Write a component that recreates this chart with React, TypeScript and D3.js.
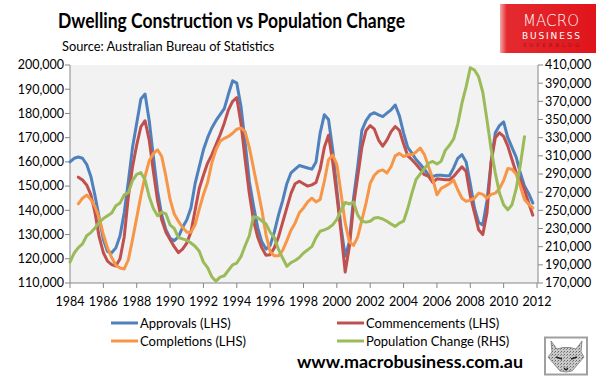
import React from 'react';
import * as d3 from 'd3';

// Quarterly series, values in thousands
const approvalsStart = 1984;
const approvals = [
  160, 161.5, 162, 161.5,
  159, 154, 146, 137,
  128, 123, 122.5, 124.5,
  129.5, 139, 152, 166,
  176, 186, 188, 177,
  162, 148, 138, 132,
  128.5, 127.5, 129, 133,
  136, 141, 151, 158,
  165, 170, 174, 177,
  179.5, 182, 188, 193.5,
  192.5, 183, 168, 152,
  142, 133, 127, 124,
  125.5, 131, 138, 144,
  151, 155.5, 157, 158.5,
  158, 157.5, 157, 160,
  172, 179.5, 177.5, 165,
  148.5, 133, 121, 127,
  145, 158, 173, 177,
  179.5, 180.3, 179.4, 178.7,
  180.1, 181.5, 183.5, 179,
  172, 166, 163.6, 161,
  159, 157, 154.5, 154,
  154.5, 154.5, 154.3, 154.3,
  157.5, 161.5, 163, 160,
  151, 141, 135, 134,
  144, 160, 172, 175,
  176.5, 170, 166, 162,
  155.5, 150, 147, 143,
];

const commencementsStart = 1984.5;
const commencements = [
  153.7, 152.5,
  150.5, 146.5, 139, 129,
  122.5, 119, 117.6, 117,
  120, 129, 145.7, 158,
  167, 174.5, 177, 169,
  156, 144, 136, 131,
  128, 125, 122.5, 124,
  126.5, 131, 140, 149,
  154.5, 159.5, 162.9, 167,
  171.2, 176, 181.5, 185,
  186.5, 176, 161, 147,
  136, 129, 124.5, 121.5,
  121.7, 124.5, 129, 135,
  141, 147, 151, 152,
  151, 150, 150.5, 151.5,
  157, 166, 171, 160,
  146, 131, 114.5, 125,
  142, 154, 166, 173,
  175, 173.5, 169, 166.5,
  169, 172.5, 174.6, 173,
  167.5, 162.5, 160.9, 159,
  157, 154.7, 154, 151.5,
  153, 152.8, 152.6, 152.6,
  154, 156, 158, 156,
  146, 139, 132, 130,
  138.9, 160, 170, 172,
  170.5, 166.5, 161, 155.5,
  152.6, 148.5, 143, 138,
];

const completionsStart = 1984.5;
const completions = [
  142.7, 145,
  146.3, 144.5, 141.5, 137,
  130, 124.5, 120.5, 117.3,
  116.2, 115.8, 119.6, 128,
  137, 146, 154, 160.5,
  163.5, 165, 162.2, 154,
  144.5, 138.5, 135.5, 133,
  131, 131, 134, 140.5,
  146.5, 151.5, 159.5, 165,
  168.5, 169.7, 170.5, 171.8,
  173.5, 174, 172.5, 166,
  157.5, 149, 140.2, 130,
  123, 121.2, 121.2, 123.5,
  127.5, 131.8, 134.8, 139,
  141, 143.5, 145, 143.5,
  144.5, 152, 160.9, 162.8,
  159, 147, 134.8, 127,
  125.5, 129, 136, 143,
  151.2, 154.5, 156.2, 156.7,
  155.4, 158, 162.5, 163.5,
  162.2, 163, 162.9, 164.1,
  165.7, 163, 158, 153,
  146.4, 149, 150, 151,
  152.5, 148.5, 145, 143.7,
  144.2, 145, 147.1, 146.6,
  145, 146.6, 147.1, 149,
  152.3, 157.3, 157, 155,
  150, 144.5, 142.5, 141,
];

const populationStart = 1984;
const population = [
  193, 203, 209, 213,
  222, 225.5, 230.5, 237,
  241, 244, 247, 255,
  258, 267, 269.5, 283,
  289.5, 291.5, 283.6, 265,
  252, 244, 248, 246,
  234, 230, 220, 218.5,
  217, 214, 210.4, 205,
  193, 187, 177, 172,
  176.5, 178, 184, 190,
  192, 199, 211, 222,
  243, 242, 238.5, 235,
  226, 220, 207, 197.5,
  188.4, 192.5, 194.8, 198,
  203, 206.5, 210, 220,
  227, 228.5, 230.5, 234,
  240, 250, 258.7, 257,
  259, 245, 238, 237,
  238, 241.5, 242, 240.5,
  238, 235, 232.3, 236,
  238, 252, 269, 284,
  290, 296, 301.9, 303.8,
  301, 304, 316, 321.6,
  328.5, 345, 368, 386,
  407, 404.5, 397, 380,
  349.6, 317.5, 291, 269,
  256.2, 250.5, 256.2, 273.5,
  300, 331,
];

const leftTicks = [110000, 120000, 130000, 140000, 150000, 160000, 170000, 180000, 190000, 200000];
const rightTicks = [170000, 190000, 210000, 230000, 250000, 270000, 290000, 310000, 330000, 350000, 370000, 390000, 410000];
const yearTicks = [1984, 1986, 1988, 1990, 1992, 1994, 1996, 1998, 2000, 2002, 2004, 2006, 2008, 2010, 2012];

const seriesNames = ['Approvals (LHS)', 'Commencements (LHS)', 'Completions (LHS)', 'Population Change (RHS)'];
const seriesColors = ['#4F81BD', '#C0504D', '#F79646', '#9BBB59'];

const FONT = 'Lato, "Open Sans", sans-serif';

function toPoints(start: number, vals: number[]): [number, number][] {
  return vals.map((v, i) => [start + i * 0.25, v * 1000]);
}

export default function App() {
  const W = 606, H = 378;
  const left = 70, right = 537, top = 65, bottom = 283;
  const x = d3.scaleLinear().domain([1984, 2012]).range([left, right]);
  const yL = d3.scaleLinear().domain([110000, 200000]).range([bottom, top]);
  const yR = d3.scaleLinear().domain([170000, 410000]).range([bottom, top]);
  const lineL = d3.line<[number, number]>().x(d => x(d[0])).y(d => yL(d[1]));
  const lineR = d3.line<[number, number]>().x(d => x(d[0])).y(d => yR(d[1]));
  const fmt = d3.format(',');
  const axisColor = '#868686';

  const paths = [
    lineL(toPoints(approvalsStart, approvals)),
    lineL(toPoints(commencementsStart, commencements)),
    lineL(toPoints(completionsStart, completions)),
    lineR(toPoints(populationStart, population)),
  ];

  const legendPos = [
    { lx: 111, ly: 323 },
    { lx: 337, ly: 323 },
    { lx: 111, ly: 341 },
    { lx: 337, ly: 341 },
  ];

  return (
    <div style={{ position: 'fixed', left: 0, top: 0 }}>
      <svg width={W} height={H} style={{ display: 'block', background: '#fff' }} fontFamily={FONT}>
        <defs>
          <linearGradient id="logoGrad" x1="0" x2="1" y1="0" y2="0">
            <stop offset="0" stopColor="#f4a8a8" />
            <stop offset="0.07" stopColor="#e42a2f" />
            <stop offset="1" stopColor="#e0141b" />
          </linearGradient>
          <pattern id="foxTex" width="3" height="3" patternUnits="userSpaceOnUse">
            <rect width="3" height="3" fill="#c9c9c9" />
            <rect width="1" height="1" fill="#6a6a6a" />
            <rect x="2" y="1" width="1" height="1" fill="#8e8e8e" />
          </pattern>
        </defs>
        {/* Title */}
        <text x={58} y={28} fontSize={20} fontWeight={700} fill="#000" textLength={347} lengthAdjust="spacingAndGlyphs">Dwelling Construction vs Population Change</text>
        <text x={62} y={51} fontSize={12.8} fill="#000">Source:  Australian Bureau of Statistics</text>

        {/* Logo */}
        <rect x={500} y={4} width={96} height={49} fill="url(#logoGrad)" />
        <text x={551} y={25.5} fontSize={15} fill="#fff" textAnchor="middle" fontFamily='"DejaVu Sans", sans-serif' fontWeight={200} textLength={56} lengthAdjust="spacing">MACRO</text>
        <text x={551} y={38.5} fontSize={9} fill="#fff" textAnchor="middle" fontFamily='"DejaVu Sans", sans-serif' textLength={58} lengthAdjust="spacing">BUSINESS</text>
        <text x={551} y={46.5} fontSize={5.2} fill="#9a1418" textAnchor="middle" fontFamily='"DejaVu Sans", sans-serif' textLength={56} lengthAdjust="spacing">SUPERBLOG</text>

        {/* Plot area */}
        <rect x={left} y={top} width={right - left + 1} height={bottom - top} fill="#F2F2F2" />

        {/* Left axis */}
        <line x1={left} x2={left} y1={top} y2={bottom} stroke={axisColor} />
        {leftTicks.map(t => (
          <g key={'l' + t}>
            <line x1={left - 5} x2={left} y1={yL(t)} y2={yL(t)} stroke={axisColor} />
            <text x={left - 6} y={yL(t)} dy="0.35em" textAnchor="end" fontSize={12.5} fill="#000">{fmt(t)}</text>
          </g>
        ))}
        {/* Right axis */}
        <line x1={right + 1} x2={right + 1} y1={top} y2={bottom} stroke={axisColor} />
        {rightTicks.map(t => (
          <g key={'r' + t}>
            <line x1={right + 1} x2={right + 6} y1={yR(t)} y2={yR(t)} stroke={axisColor} />
            <text x={right + 8} y={yR(t)} dy="0.35em" textAnchor="start" fontSize={12.5} fill="#000">{fmt(t)}</text>
          </g>
        ))}
        {/* X axis */}
        <line x1={left} x2={right + 1} y1={bottom} y2={bottom} stroke={axisColor} />
        {yearTicks.map(t => (
          <g key={'x' + t}>
            <line x1={x(t)} x2={x(t)} y1={bottom} y2={bottom + 5} stroke={axisColor} />
            <text x={x(t)} y={302} dy="0.35em" textAnchor="middle" fontSize={12.5} fill="#000">{t}</text>
          </g>
        ))}

        {/* Series */}
        {paths.map((p, i) => (
          <path key={'s' + i} d={p || ''} fill="none" stroke={seriesColors[i]} strokeWidth={3} strokeLinejoin="round" strokeLinecap="round" />
        ))}

        {/* Legend */}
        {seriesNames.map((n, i) => (
          <g key={'lg' + i}>
            <line x1={legendPos[i].lx} x2={legendPos[i].lx + 27} y1={legendPos[i].ly} y2={legendPos[i].ly} stroke={seriesColors[i]} strokeWidth={3} />
            <text x={legendPos[i].lx + 29} y={legendPos[i].ly} dy="0.35em" fontSize={13} fill="#000">{n}</text>
          </g>
        ))}

        {/* URL */}
        <text x={297} y={362} dy="0.35em" fontSize={17.5} fontWeight={700} fill="#000" textLength={226} lengthAdjust="spacingAndGlyphs">www.macrobusiness.com.au</text>

        {/* Fox badge */}
        <rect x={545} y={337.5} width={42} height={37} fill="#fff" stroke="#a0a0a0" strokeWidth={2} />
        <path d="M551,341 L557,349 L563,347.5 L570,347.5 L576,349 L582,341 L581,352 L584,357 L578,364 L572,371 L566,372 L560,371 L554,364 L548,357 L552,352 Z" fill="url(#foxTex)" stroke="#777" strokeWidth={0.8} />
        <path d="M556,357 L562,359 M571,359 L577,357" stroke="#222" strokeWidth={1.4} />
        <path d="M564,368 L566,370 L568,368" stroke="#222" strokeWidth={1.2} fill="none" />
      </svg>
    </div>
  );
}
